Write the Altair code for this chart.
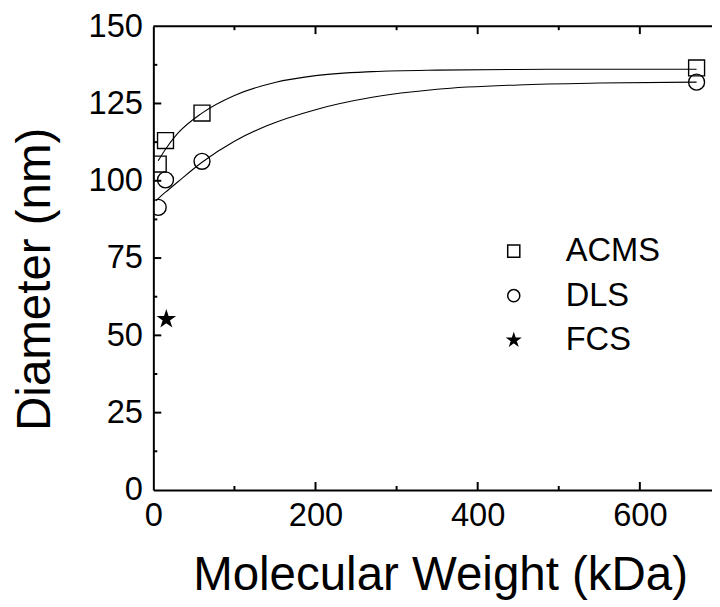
import altair as alt
import pandas as pd

# ---- data ----
methods = ["ACMS", "DLS", "FCS"]

acms_mw = [6, 15, 60, 670]
acms_d = [105.4, 113.0, 121.9, 136.5]
dls_mw = [6, 15, 60, 670]
dls_d = [91.4, 100.3, 106.3, 131.9]
fcs_mw = [16]
fcs_d = [55.2]

# fitted curves
acms_fit_mw = [6, 15, 30, 60, 100, 150, 200, 270, 350, 450, 550, 670]
acms_fit_d = [106.5, 110.2, 115.3, 121.9, 127.6, 131.8, 134.0, 135.3, 135.8, 136.0, 136.1, 136.1]
dls_fit_mw = [3, 15, 30, 60, 100, 140, 200, 270, 350, 450, 550, 670]
dls_fit_d = [93.5, 96.3, 99.6, 106.0, 112.8, 117.8, 123.0, 127.0, 129.6, 131.0, 131.6, 131.9]

x_tick_labels = [0, 200, 400, 600]
x_major_ticks = [200, 400, 600]
x_minor_ticks = [100, 300, 500]
y_tick_labels = [0, 25, 50, 75, 100, 125, 150]
y_major_ticks = [25, 50, 75, 100, 125]
y_minor_ticks = [12.5, 37.5, 62.5, 87.5, 112.5, 137.5]

W, H = 565, 469
FONT = "Liberation Sans"
STAR = ("M0,-1L0.225,-0.309L0.951,-0.309L0.363,0.118L0.588,0.809L0,0.382"
        "L-0.588,0.809L-0.363,0.118L-0.951,-0.309L-0.225,-0.309Z")

xs = alt.Scale(domain=[0, 689], nice=False, zero=False)
ys = alt.Scale(domain=[0, 150], nice=False, zero=False)

pts = pd.DataFrame({
    "mw": acms_mw + dls_mw + fcs_mw,
    "d": acms_d + dls_d + fcs_d,
    "method": ["ACMS"] * len(acms_mw) + ["DLS"] * len(dls_mw) + ["FCS"] * len(fcs_mw),
})
fits = pd.DataFrame({
    "mw": acms_fit_mw + dls_fit_mw,
    "d": acms_fit_d + dls_fit_d,
    "series": ["ACMS"] * len(acms_fit_mw) + ["DLS"] * len(dls_fit_mw),
})

legend = alt.Legend(
    title=None, orient="none", legendX=348, legendY=211,
    labelFont=FONT, labelFontSize=33, labelColor="black",
    symbolSize=150, symbolStrokeColor="black", symbolStrokeWidth=1.5,
    labelOffset=36, rowPadding=11, padding=0,
)

x_axis = alt.Axis(
    values=x_tick_labels, ticks=False, grid=False, labelFlush=False, labelOverlap=False,
    labelFont=FONT, labelFontSize=33, labelColor="black", labelPadding=10,
    domainColor="black", domainWidth=2,
    title="Molecular Weight (kDa)", titleFont=FONT, titleFontSize=48, titleFontWeight="normal",
    titleColor="black", titleX=290, titleY=101, titleAlign="center", titleBaseline="alphabetic",
)
y_axis = alt.Axis(
    values=y_tick_labels, ticks=False, grid=False, labelFlush=False, labelOverlap=False,
    labelFont=FONT, labelFontSize=33, labelColor="black", labelPadding=11,
    domainColor="black", domainWidth=2,
    title="Diameter (nm)", titleFont=FONT, titleFontSize=48, titleFontWeight="normal",
    titleColor="black", titleAngle=270, titleX=-105, titleY=255.5,
    titleAlign="center", titleBaseline="alphabetic",
)

lines = alt.Chart(fits).mark_line(color="black", strokeWidth=1.1, clip=True, interpolate="monotone").encode(
    x=alt.X("mw:Q", scale=xs, axis=x_axis),
    y=alt.Y("d:Q", scale=ys, axis=y_axis),
    detail="series:N",
)

points = alt.Chart(pts).mark_point(strokeWidth=1.4, size=260, opacity=1, clip=True).encode(
    x=alt.X("mw:Q", scale=xs, axis=x_axis),
    y=alt.Y("d:Q", scale=ys, axis=y_axis),
    shape=alt.Shape("method:N", scale=alt.Scale(domain=methods, range=["square", "circle", STAR]), legend=legend),
    fill=alt.Fill("method:N", scale=alt.Scale(domain=methods, range=["transparent", "transparent", "black"]), legend=legend),
    stroke=alt.Stroke("method:N", scale=alt.Scale(domain=methods, range=["black", "black", "black"]), legend=legend),
)

top_line = alt.Chart(pd.DataFrame({"k": [0]})).mark_rule(color="black", strokeWidth=2).encode(
    x=alt.value(0), x2=alt.value(W), y=alt.value(0)
)

def xticks(vals, length, top):
    y0, y1 = (0, length) if top else (H, H - length)
    return alt.Chart(pd.DataFrame({"v": vals})).mark_rule(color="black", strokeWidth=2).encode(
        x=alt.X("v:Q", scale=xs, axis=x_axis), y=alt.value(y0), y2=alt.value(y1)
    )

def yticks(vals, length):
    return alt.Chart(pd.DataFrame({"v": vals})).mark_rule(color="black", strokeWidth=2).encode(
        y=alt.Y("v:Q", scale=ys, axis=y_axis), x=alt.value(0), x2=alt.value(length)
    )

chart = alt.layer(
    lines, points, top_line,
    xticks(x_major_ticks, 8, False), xticks(x_minor_ticks, 4, False),
    xticks(x_major_ticks, 8, True), xticks(x_minor_ticks, 4, True),
    yticks(y_major_ticks, 8), yticks(y_minor_ticks, 4),
).properties(
    width=W, height=H,
    autosize=alt.AutoSizeParams(type="none"),
    padding={"left": 147, "top": 15, "right": 0, "bottom": 115},
    background="white",
).configure_view(stroke=None)

chart.save("out.html", embed_options={"renderer": "svg", "actions": False})
